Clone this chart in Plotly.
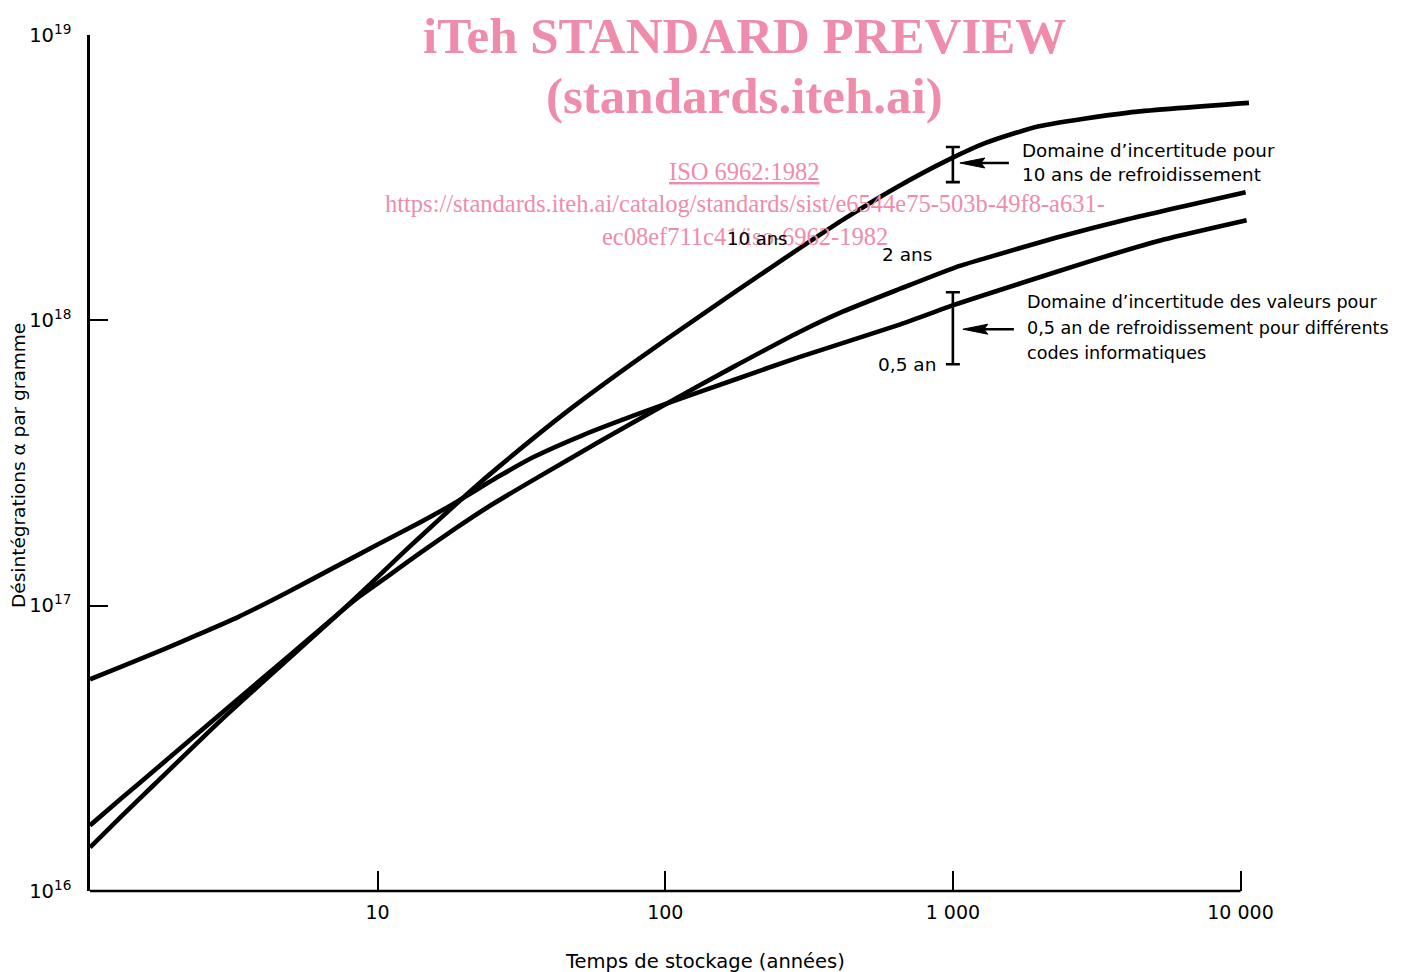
import math
import plotly.graph_objects as go

# ---------------- data ----------------
years_05 = [1, 1.28, 1.82, 2.37, 3.27, 4.88, 6.89, 10.0, 14.1, 18.0, 26.6, 34.7, 51.8,
            77.1, 101, 172, 294, 653, 1016, 1722, 3062, 5408, 10500]
values_05 = [5.52e16, 6.10e16, 7.05e16, 7.91e16, 9.12e16, 1.117e17, 1.343e17, 1.637e17,
             1.963e17, 2.249e17, 2.851e17, 3.311e17, 3.963e17, 4.624e17, 5.105e17,
             6.166e17, 7.447e17, 9.661e17, 1.135e18, 1.349e18, 1.622e18, 1.919e18,
             2.244e18]

years_2 = [1, 1.28, 1.68, 2.85, 4.88, 8.34, 10.9, 14.1, 18.6, 24.2, 34.7, 59.3, 101,
           172, 294, 414, 653, 1016, 1300, 2296, 4083, 10420]
values_2 = [1.698e16, 2.104e16, 2.655e16, 4.178e16, 6.622e16, 1.047e17, 1.271e17,
            1.535e17, 1.862e17, 2.218e17, 2.754e17, 3.767e17, 5.105e17, 6.855e17,
            9.120e17, 1.072e18, 1.288e18, 1.531e18, 1.652e18, 1.950e18, 2.265e18,
            2.812e18]

years_10 = [1, 1.28, 1.68, 2.85, 4.88, 7.28, 9.48, 12.4, 16.2, 21.1, 26.6, 45.5, 77.1,
            132, 233, 414, 634, 975, 1300, 1991, 4083, 10700]
values_10 = [1.422e16, 1.820e16, 2.371e16, 3.963e16, 6.486e16, 9.333e16, 1.197e17,
             1.549e17, 1.986e17, 2.529e17, 3.090e17, 4.786e17, 7.079e17, 1.035e18,
             1.531e18, 2.249e18, 2.917e18, 3.673e18, 4.188e18, 4.786e18, 5.346e18,
             5.781e18]

# uncertainty ranges at 1000 years
err_years = [1000, 1000]
err_low = [3.05e18, 7.02e17]
err_high = [4.05e18, 1.255e18]
arrow_values = [3.56e18, 9.31e17]

x_tick_vals = [10, 100, 1000, 10000]
x_tick_text = ["10", "100", "1 000", "10 000"]
y_tick_vals = [1e16, 1e17, 1e18, 1e19]
y_tick_text = ["10<sup>16</sup>", "10<sup>17</sup>", "10<sup>18</sup>", "10<sup>19</sup>"]

# ---------------- layout helpers ----------------
OFF = 8                      # page body margin
W, H = 1400, 964
ML, MR, MT, MB = 82, 156, 27, 81
PW = W - ML - MR
PH = H - MT - MB
X_LOG_MAX = 4.04
Y_LOG_MIN, Y_LOG_MAX = 16, 19


def xp(px):
    return (px - OFF - ML) / PW


def yp(py):
    return (H - MB - (py - OFF)) / PH


def data_xp(year, dpx=0.0):
    return math.log10(year) / X_LOG_MAX + dpx / PW


def data_yp(v, dpy=0.0):
    return (math.log10(v) - Y_LOG_MIN) / (Y_LOG_MAX - Y_LOG_MIN) + dpy / PH


SANS = "DejaVu Sans"
SERIF = "Liberation Serif"
PINK = "#ef8cab"

fig = go.Figure()

for xs, ys in [(years_05, values_05), (years_2, values_2), (years_10, values_10)]:
    fig.add_trace(go.Scatter(
        x=xs, y=ys, mode="lines",
        line=dict(color="black", width=4.6, shape="spline", smoothing=0.6),
        showlegend=False, hoverinfo="skip"))

centers = [math.sqrt(lo * hi) for lo, hi in zip(err_low, err_high)]
fig.add_trace(go.Scatter(
    x=err_years, y=centers, mode="markers",
    marker=dict(size=1, color="rgba(0,0,0,0)"),
    error_y=dict(type="data", symmetric=False,
                 array=[hi - c for hi, c in zip(err_high, centers)],
                 arrayminus=[c - lo for lo, c in zip(err_low, centers)],
                 color="black", thickness=2.6, width=7),
    showlegend=False, hoverinfo="skip"))

shapes = []
# x axis line (ends at the 10 000 tick)
shapes.append(dict(type="line", xref="paper", yref="paper",
                   x0=0, x1=data_xp(10000), y0=0, y1=0,
                   line=dict(color="black", width=2.5)))

# arrows pointing to the uncertainty bars
for i, (yr, val) in enumerate(zip(err_years, arrow_values)):
    tip = 7 if i == 0 else 10
    tail = 56 if i == 0 else 61
    head_len, head_half = 25, 5
    x_tip = data_xp(yr, tip)
    x_head = data_xp(yr, tip + head_len)
    y_mid = data_yp(val)
    y_up = data_yp(val, head_half)
    y_dn = data_yp(val, -head_half)
    shapes.append(dict(type="path", xref="paper", yref="paper",
                       path=f"M {x_tip},{y_mid} L {x_head},{y_up} L {data_xp(yr, tip + head_len - 4)},{y_mid} L {x_head},{y_dn} Z",
                       fillcolor="black", line=dict(color="black", width=1)))
    shapes.append(dict(type="line", xref="paper", yref="paper",
                       x0=data_xp(yr, tip + head_len - 6), x1=data_xp(yr, tail),
                       y0=y_mid, y1=y_mid, line=dict(color="black", width=2.5)))

annotations = []


def add_text(text, px, py, size, family=SANS, color="black", xanchor="center", angle=0):
    annotations.append(dict(text=text, x=xp(px), y=yp(py), xref="paper", yref="paper",
                            showarrow=False, xanchor=xanchor, yanchor="middle",
                            textangle=angle,
                            font=dict(family=family, size=size, color=color)))


# watermark
add_text("<b>iTeh STANDARD PREVIEW</b>", 744, 36, 51, SERIF, PINK)
add_text("<b>(standards.iteh.ai)</b>", 744, 96, 51, SERIF, PINK)
add_text("<u>ISO 6962:1982</u>", 744, 172, 24.5, SERIF, PINK)
add_text("https://standards.iteh.ai/catalog/standards/sist/e6544e75-503b-49f8-a631-",
         745, 204, 24.5, SERIF, PINK)
add_text("ec08ef711c41/iso-6962-1982", 745, 236, 24.5, SERIF, PINK)

# curve labels
add_text("10 ans", 757, 238, 18)
add_text("2 ans", 907, 255, 18.5)
add_text("0,5 an", 907, 364, 18.5)

# explanatory notes
add_text("Domaine d’incertitude pour", 1020, 150, 18.3, xanchor="left")
add_text("10 ans de refroidissement", 1020, 174, 18.3, xanchor="left")
add_text("Domaine d’incertitude des valeurs pour", 1025, 302, 17.6, xanchor="left")
add_text("0,5 an de refroidissement pour différents", 1025, 328, 17.6, xanchor="left")
add_text("codes informatiques", 1025, 353, 17.6, xanchor="left")

# axis titles
add_text("Temps de stockage (années)", 705, 961, 19.5)
add_text("Désintégrations α par gramme", 18, 466, 18.5, angle=-90)

fig.update_layout(
    width=W, height=H,
    margin=dict(l=ML, r=MR, t=MT, b=MB, pad=0),
    paper_bgcolor="white", plot_bgcolor="white",
    showlegend=False,
    shapes=shapes, annotations=annotations,
    xaxis=dict(type="log", range=[0, X_LOG_MAX],
               tickvals=x_tick_vals, ticktext=x_tick_text,
               ticks="inside", ticklen=20, tickwidth=2, tickcolor="black",
               showline=False, showgrid=False, zeroline=False,
               ticklabelstandoff=8,
               tickfont=dict(family=SANS, size=19, color="black")),
    yaxis=dict(type="log", range=[Y_LOG_MIN, Y_LOG_MAX],
               tickvals=y_tick_vals, ticktext=y_tick_text,
               ticks="inside", ticklen=18, tickwidth=2, tickcolor="black",
               showline=True, linewidth=2.5, linecolor="black",
               showgrid=False, zeroline=False,
               ticklabelstandoff=12,
               tickfont=dict(family=SANS, size=19.5, color="black")),
)

fig.write_html("out.html")
